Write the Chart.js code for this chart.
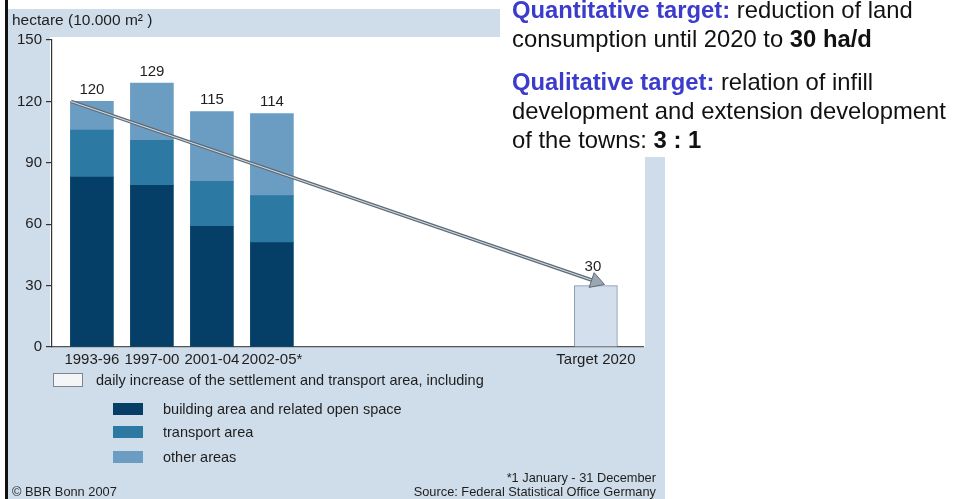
<!DOCTYPE html>
<html>
<head>
<meta charset="utf-8">
<script src="https://cdn.jsdelivr.net/npm/chart.js@4.4.1/dist/chart.umd.min.js"></script>
<style>
  body { margin: 0; background: #fff; font-family: "Liberation Sans", Arial, sans-serif; color: #1e1e1e; }
  #wrap { position: relative; width: 954px; height: 499px; overflow: hidden; }
  #grafico { position: absolute; left: 0; top: 0; }
  .txt { position: absolute; white-space: nowrap; }
  .alvo { font-size: 23.8px; line-height: 29px; color: #111; }
  .alvo b.azul { color: #3c3ccc; }
  .leg { font-size: 14.5px; line-height: 16px; }
  .sw { position: absolute; width: 30px; height: 12px; }
  .rodape { font-size: 12.8px; line-height: 14px; }
</style>
</head>
<body>
<div id="wrap">
  <canvas id="grafico" width="954" height="499"></canvas>
  <div class="txt" style="left:12px;top:11px;font-size:15.5px;">hectare (10.000 m² )</div>

  <div class="txt alvo" style="left:512px;top:-5px;"><b class="azul">Quantitative target:</b> reduction of land<br>consumption until 2020 to <b>30 ha/d</b></div>
  <div class="txt alvo" style="left:512px;top:67px;"><b class="azul">Qualitative target:</b> relation of infill<br>development and extension development<br>of the towns: <b>3 : 1</b></div>

  <div id="legenda"></div>

  <div class="txt rodape" style="left:12px;top:485px;">© BBR Bonn 2007</div>
  <div class="txt rodape" style="right:298px;top:471px;text-align:right;">*1 January - 31 December</div>
  <div class="txt rodape" style="right:298px;top:485px;text-align:right;">Source: Federal Statistical Office Germany</div>
</div>
<script>
// dados (ha por dia)
const periodos = ['1993-96', '1997-00', '2001-04', '2002-05*'];
const construcao = [83, 79, 59, 51];   // building area and related open space
const transporte = [23, 22, 22, 23];   // transport area
const outras = [14, 28, 34, 40];       // other areas
const meta2020 = 30;
const rotuloMeta = 'Target 2020';
const tendencia = [120, 32];           // seta de 1993-96 ate a meta
const yTicks = [0, 30, 60, 90, 120, 150];

const cores = {
  construcao: '#053f67',
  transporte: '#2c79a3',
  outras: '#6b9dc3',
  meta: '#d3dfec',
  painel: '#cfdce9'
};

// posicao de cada coluna no eixo x (linear)
const posicoes = [1, 2, 3, 4, 9.4];
const xRotulos = periodos.concat([rotuloMeta]);

function pontos(valores){
  return valores.map((v, i) => ({x: posicoes[i], y: v}))
}

const fundo = {
  id: 'fundo',
  beforeDraw(chart){
    const ctx = chart.ctx;
    const a = chart.chartArea;
    ctx.save();
    ctx.fillStyle = '#111';
    ctx.fillRect(5, 0, 3, 499);
    ctx.fillStyle = cores.painel;
    ctx.fillRect(8, 9, 657, 490);
    ctx.fillStyle = '#fff';
    ctx.fillRect(a.left - 2, 37, 645 - a.left + 2, a.bottom - 37);
    ctx.fillRect(500, 0, 454, 157);
    ctx.restore();
  }
};

const totais = {
  id: 'totais',
  afterDatasetsDraw(chart){
    const ctx = chart.ctx;
    ctx.save();
    ctx.font = '15px "Liberation Sans", Arial, sans-serif';
    ctx.fillStyle = '#1e1e1e';
    ctx.textAlign = 'center';
    ctx.textBaseline = 'bottom';
    const topo = chart.getDatasetMeta(2).data;
    periodos.forEach((p, i) => {
      const total = construcao[i] + transporte[i] + outras[i];
      ctx.fillText(String(total), topo[i].x, topo[i].y - 4);
    });
    const m = chart.getDatasetMeta(3).data[0];
    ctx.fillText(String(meta2020), m.x - 3, m.y - 11);
    ctx.restore();
  }
};

const canvas = document.querySelector('#grafico');
const grafico = new Chart(canvas, {
  type: 'bar',
  data: {
    datasets: [
      { label: 'building area and related open space', data: pontos(construcao), backgroundColor: cores.construcao, order: 10 },
      { label: 'transport area', data: pontos(transporte), backgroundColor: cores.transporte, order: 10 },
      { label: 'other areas', data: pontos(outras), backgroundColor: cores.outras, order: 10 },
      { label: rotuloMeta, data: [{x: posicoes[4], y: meta2020}], backgroundColor: cores.meta,
        borderColor: '#8193a8', borderWidth: 1, order: 10 },
      { type: 'line', stack: 'l1', data: [{x: 0.652, y: tendencia[0]}, {x: 9.40, y: tendencia[1]}],
        borderColor: '#5d6b78', borderWidth: 3.6, pointRadius: 0, order: 3 },
      { type: 'line', stack: 'l2', data: [{x: 0.652, y: tendencia[0]}, {x: 9.40, y: tendencia[1]}],
        borderColor: '#d4dade', borderWidth: 1.1, pointRadius: 0, order: 2 },
      { type: 'line', stack: 'l3', data: [{x: 9.40, y: tendencia[1]}],
        showLine: false, pointStyle: 'triangle', pointRadius: 9, rotation: 109,
        pointBackgroundColor: '#9aa7b0', pointBorderColor: '#5d6b78', pointBorderWidth: 1, order: 1 }
    ]
  },
  options: {
    responsive: false,
    animation: false,
    events: [],
    barThickness: 43,
    layout: { padding: { left: 5, top: 40, right: 311, bottom: 0 } },
    plugins: { legend: { display: false }, tooltip: { enabled: false } },
    scales: {
      x: {
        type: 'linear',
        stacked: true,
        offset: false,
        min: 0.335,
        max: 10.185,
        afterFit: s => { s.height = 152 },
        afterBuildTicks: s => { s.ticks = posicoes.map(v => ({value: v})) },
        grid: { display: false, drawTicks: false },
        border: { display: true, color: '#555', width: 1.2 },
        ticks: {
          autoSkip: false, maxRotation: 0, padding: 4, color: '#1e1e1e',
          font: { family: '"Liberation Sans", Arial, sans-serif', size: 15 },
          callback: (v, i) => xRotulos[i]
        }
      },
      y: {
        stacked: true,
        min: 0,
        max: 150,
        afterFit: s => { s.width = 47 },
        afterBuildTicks: s => { s.ticks = yTicks.map(v => ({value: v})) },
        grid: { drawOnChartArea: false, tickLength: 6, color: '#333', lineWidth: 1.2 },
        border: { color: '#333', width: 1.2 },
        ticks: {
          padding: 4, color: '#1e1e1e',
          font: { family: '"Liberation Sans", Arial, sans-serif', size: 15 }
        }
      }
    }
  },
  plugins: [fundo, totais]
});

// legenda montada a partir das mesmas cores
const legenda = document.querySelector('#legenda');
const itens = [
  ['daily increase of the settlement and transport area, including', null],
  ['building area and related open space', cores.construcao],
  ['transport area', cores.transporte],
  ['other areas', cores.outras]
];
const linhasY = [380, 409, 432, 457];
itens.forEach(([texto, cor], i) => {
  const sw = document.createElement('div');
  sw.className = 'sw';
  const t = document.createElement('div');
  t.className = 'txt leg';
  t.textContent = texto;
  if (cor === null) {
    sw.style.cssText = 'left:53px;top:' + (linhasY[i] - 7) + 'px;width:28px;height:12px;background:#f3f5f7;border:1px solid #7d8690;';
    t.style.left = '96px';
  } else {
    sw.style.left = '113px';
    sw.style.top = (linhasY[i] - 6) + 'px';
    sw.style.background = cor;
    t.style.left = '163px';
  }
  t.style.top = (linhasY[i] - 8) + 'px';
  legenda.appendChild(sw);
  legenda.appendChild(t);
});
</script>
</body>
</html>
